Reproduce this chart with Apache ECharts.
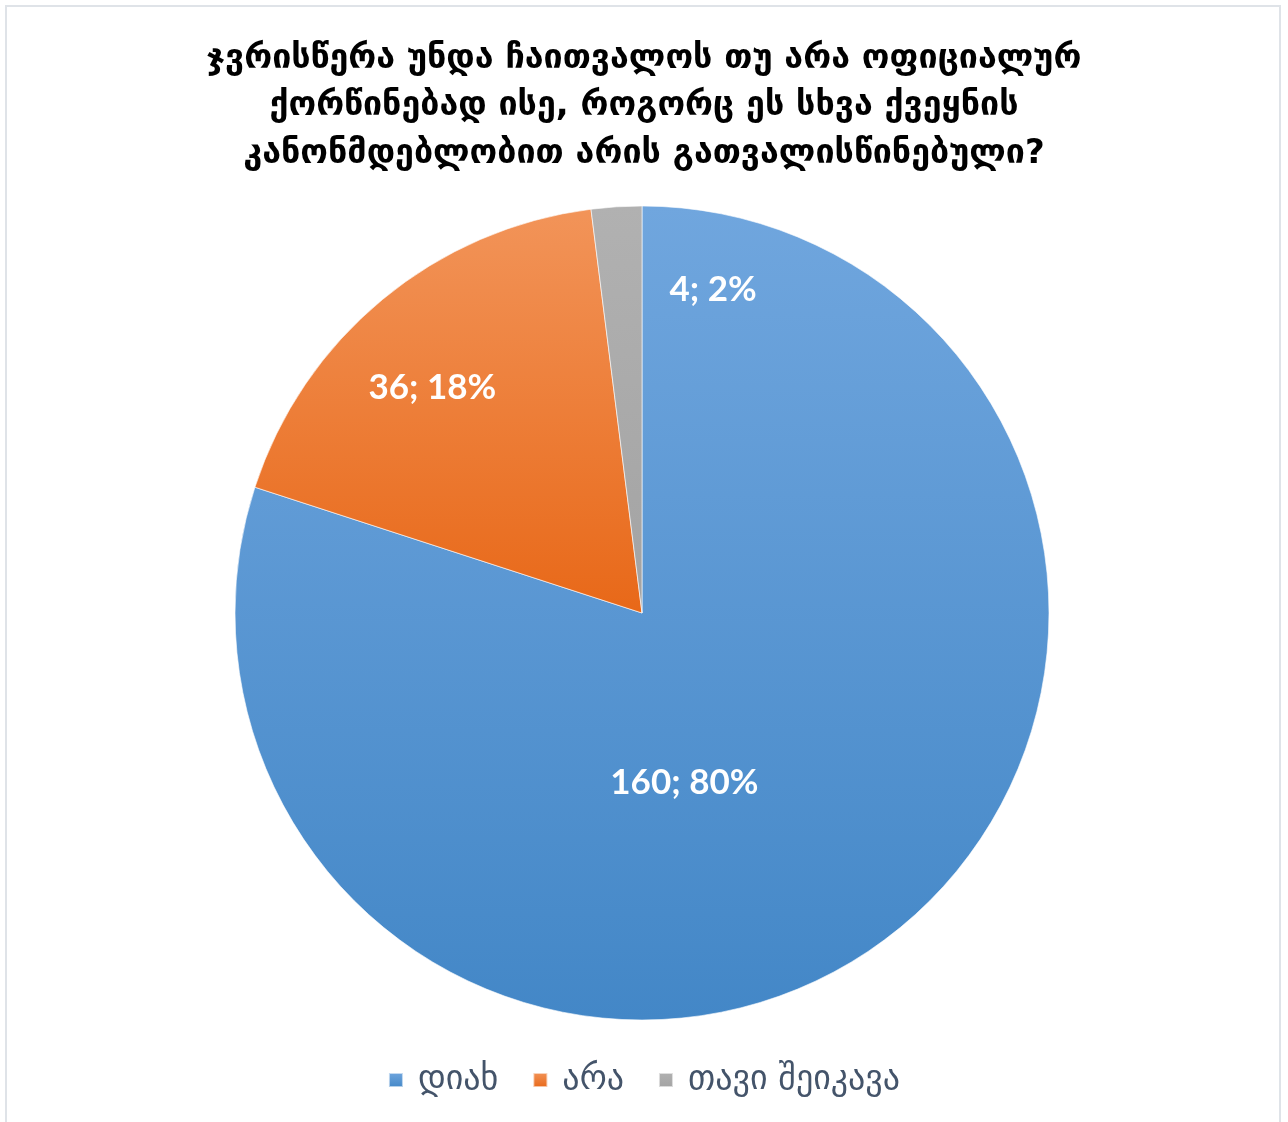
<!DOCTYPE html>
<html>
<head>
<meta charset="utf-8">
<style>
  html, body { margin: 0; padding: 0; background: #ffffff; }
  #wrap { position: relative; width: 1288px; height: 1122px; }
  #chart { position: absolute; left: 0; top: 0; width: 1288px; height: 1122px; }
  #frame { position: absolute; left: 5px; top: 5px; width: 1272px; height: 1120px;
           border: 2px solid #dfe3e8; border-bottom: none; pointer-events: none; }
</style>
<script src="https://cdn.jsdelivr.net/npm/echarts@6/dist/echarts.min.js"></script>
</head>
<body>
<div id="wrap">
  <div id="chart"></div>
  <div id="frame"></div>
</div>
<script>
// Survey answers
const titleLines = [
  'ჯვრისწერა უნდა ჩაითვალოს თუ არა ოფიციალურ',
  'ქორწინებად ისე, როგორც ეს სხვა ქვეყნის',
  'კანონმდებლობით არის გათვალისწინებული?'
];
const categories = ['დიახ', 'არა', 'თავი შეიკავა'];
const counts = [160, 36, 4];

// Slice colours: top and bottom of each vertical gradient
const sliceTop = ['#70a6de', '#f29459', '#b1b1b1'];
const sliceBottom = ['#4387c7', '#e86818', '#a3a3a3'];
// Offsets moving each value label away from the slice's mid-radius point
const labelOffsets = [[-79, 3], [-78, -66], [84, -117]];

const CX = 642, CY = 613, R = 407;

const chart = echarts.init(document.getElementById('chart'), null, { renderer: 'canvas' });

const data = categories.map((name, i) => ({
  name: name,
  value: counts[i],
  itemStyle: {
    color: new echarts.graphic.LinearGradient(0, 0, 0, 1, [
      { offset: 0, color: sliceTop[i] },
      { offset: 1, color: sliceBottom[i] }
    ])
  },
  label: { offset: labelOffsets[i] }
}));

chart.setOption({
  animation: false,
  backgroundColor: '#ffffff',
  title: {
    text: titleLines.join('\n'),
    left: 'center',
    top: 30,
    textStyle: {
      fontFamily: '"DejaVu Sans", sans-serif',
      fontWeight: 'bold',
      fontSize: 34,
      lineHeight: 47.5,
      color: '#000000'
    }
  },
  legend: {
    bottom: 20,
    left: 'center',
    itemWidth: 14,
    itemHeight: 14,
    itemGap: 34,
    icon: 'rect',
    selectedMode: false,
    textStyle: {
      fontFamily: '"DejaVu Sans", sans-serif',
      fontSize: 34,
      color: '#44546a',
      padding: [0, 0, 0, 10]
    },
    data: categories
  },
  series: [{
    type: 'pie',
    center: [CX, CY],
    radius: R,
    startAngle: 90,
    clockwise: true,
    avoidLabelOverlap: false,
    silent: true,
    itemStyle: { borderColor: 'rgba(255,255,255,0.6)', borderWidth: 1 },
    label: {
      show: true,
      position: 'inside',
      formatter: p => p.value + '; ' + Math.round(p.percent) + '%',
      fontFamily: 'Lato, "Open Sans", sans-serif',
      fontWeight: 'bold',
      fontSize: 35,
      color: '#ffffff'
    },
    labelLine: { show: false },
    emphasis: { disabled: true },
    data: data
  }],
  graphic: [{
    // short connector for the small slice's label
    type: 'polyline',
    silent: true,
    shape: { points: [[CX + 1, CY - 302], [CX + 14, CY - 312], [CX + 24, CY - 312]] },
    style: { stroke: '#c8cdd3', lineWidth: 1.5, fill: null }
  }]
});
</script>
</body>
</html>
